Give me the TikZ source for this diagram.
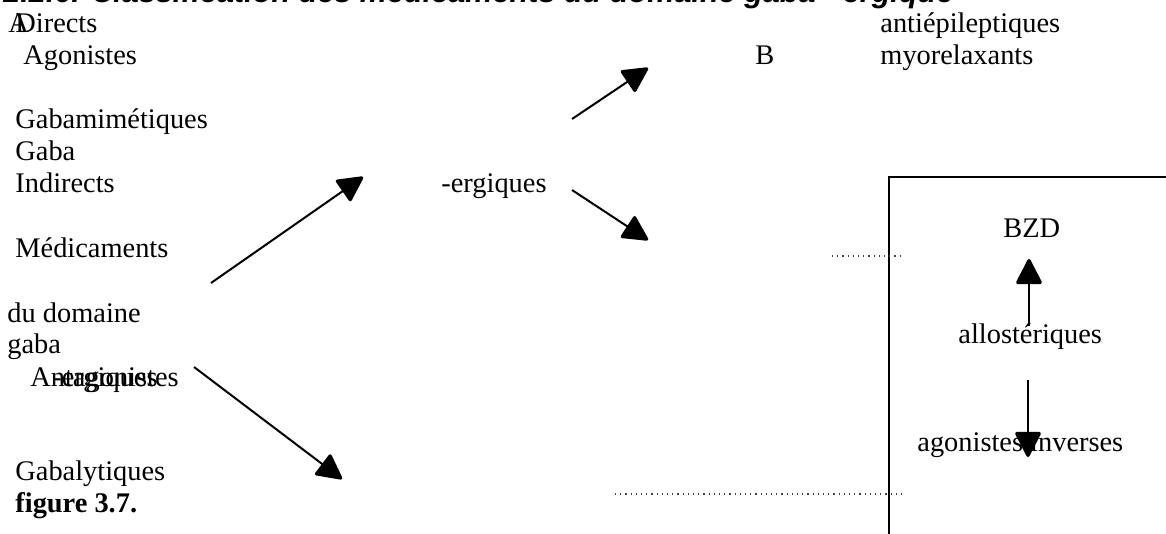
\documentclass[tikz,border=0pt]{standalone}
\usepackage{fontspec}
\setmainfont{Liberation Serif}
\newfontfamily\headfont{Liberation Sans}
\usetikzlibrary{arrows.meta}

\begin{document}
\begin{tikzpicture}[x=0.5pt, y=-0.5pt,
  >={Triangle[length=13.5pt,width=13.5pt,round,line width=1.6pt]},
  txt/.style={anchor=base west, inner sep=0pt, font=\fontsize{14.2}{17}\selectfont},
  arr/.style={->, line width=1pt},
  sep/.style={line width=0.6pt, dotted, black!75}]
  \useasboundingbox (0,0) rectangle (1166,534);
  \clip (0,0) rectangle (1166,534);
  % heading, cut by the top edge
  \node[anchor=base west, inner sep=0pt, font=\headfont\bfseries\itshape\fontsize{15.3}{18}\selectfont] (head) at (3,3) {2.2.6. Classification des médicaments du domaine gaba - ergique};
  % left column
  \node[txt] (lblA) at (8,33) {A};
  \node[txt] (directs) at (15,33) {Directs};
  \node[txt] (agon) at (23,65) {Agonistes};
  \node[txt] (mimet) at (15,129) {Gabamimétiques};
  \node[txt] (gabaA) at (15,161) {Gaba};
  \node[txt] (indir) at (15,193) {Indirects};
  \node[txt] (medic) at (15,257) {Médicaments};
  \node[txt] (domaine) at (7,322) {du domaine};
  \node[txt] (gabaB) at (7,353) {gaba};
  \node[txt] (antag) at (30,386) {Antagonistes};
  \node[txt] (ergL) at (52,386) {-ergiques};
  \node[txt] (lytic) at (15,480) {Gabalytiques};
  \node[txt, font=\fontsize{14.2}{17}\selectfont\bfseries] (fig) at (15,512) {figure 3.7.};
  % middle and right
  \node[txt] (ergM) at (441,193) {-ergiques};
  \node[txt] (epil) at (880,33) {antiépileptiques};
  \node[txt] (lblB) at (755,65) {B};
  \node[txt] (myor) at (880,65) {myorelaxants};
  \node[txt] (bzd) at (1003,237) {BZD};
  \node[txt] (allo) at (958,343) {allostériques};
  \node[txt] (inv) at (917,451) {agonistes inverses};
  % box and dotted rules
  \draw[line width=1.2pt] (889,534) -- (889,177) -- (1166,177);
  \draw[sep] (832,256) -- (903,256);
  \draw[sep] (615,494) -- (903,494);
  % arrow ends
  \coordinate (t1) at (211,283);  \coordinate (h1) at (363,177);
  \coordinate (t2) at (572,119);  \coordinate (h2) at (648,68);
  \coordinate (t3) at (572,190);  \coordinate (h3) at (648,240);
  \coordinate (t4) at (194,367);  \coordinate (h4) at (342,479);
  \coordinate (t5) at (1029,326); \coordinate (h5) at (1029,259);
  \coordinate (t6) at (1028,380); \coordinate (h6) at (1028,457);
  \foreach \n in {1,...,6}
    \draw[arr] (t\n) -- (h\n);
\end{tikzpicture}
\end{document}
